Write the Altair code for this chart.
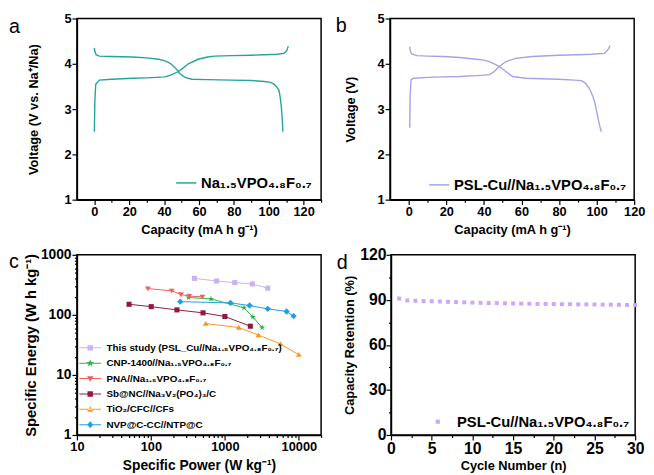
import altair as alt
import pandas as pd

FONT = "Liberation Sans"
NVPF = "Na₁.₅VPO₄.₈F₀.₇"
LAB_A = NVPF
LAB_B = "PSL-Cu//" + NVPF
LAB_D = "PSL-Cu//" + NVPF

# ---------------- panel a ----------------
a_ch_cap = [0, 0.3, 0.8, 2.8, 10, 21.7, 30, 40.6, 44.4, 48.2, 51, 53.9, 59.5, 65, 69, 78.4, 90, 97.4, 105, 108.7, 110.2, 111.2]
a_ch_v = [2.5, 3.2, 3.55, 3.64, 3.66, 3.68, 3.69, 3.71, 3.76, 3.83, 3.91, 4.0, 4.1, 4.15, 4.17, 4.18, 4.19, 4.2, 4.21, 4.23, 4.28, 4.39]
a_dis_cap = [0, 0.3, 1, 2.8, 10, 21.7, 30, 36.9, 40, 42.5, 44.5, 46.3, 48, 49.1, 52, 55.8, 65, 78.4, 90, 97.4, 101, 103, 104.8, 105.9, 106.6, 107.2, 107.7, 108.1]
a_dis_v = [4.35, 4.27, 4.2, 4.17, 4.16, 4.15, 4.13, 4.1, 4.07, 4.03, 3.98, 3.91, 3.84, 3.78, 3.7, 3.66, 3.65, 3.64, 3.63, 3.61, 3.59, 3.55, 3.48, 3.41, 3.25, 3.05, 2.8, 2.5]

# ---------------- panel b ----------------
b_ch_cap = [0.5, 0.7, 1.2, 2.6, 10, 18.4, 27, 35.9, 40, 42.9, 45.5, 48.2, 51.7, 56.9, 65.7, 79.7, 90, 97.2, 104.2, 106, 107.2]
b_ch_v = [2.59, 3.3, 3.65, 3.68, 3.7, 3.71, 3.72, 3.74, 3.75, 3.76, 3.83, 3.94, 4.05, 4.12, 4.16, 4.19, 4.2, 4.21, 4.23, 4.31, 4.4]
b_dis_cap = [0.5, 0.7, 1.5, 4.4, 10, 18.4, 27, 35.9, 40, 42.9, 45.5, 48.2, 51.7, 55.2, 62.2, 79.7, 88, 91.9, 93.8, 95.4, 96.8, 98, 99, 99.8, 100.5, 101.5, 102.5]
b_dis_v = [4.38, 4.3, 4.22, 4.18, 4.17, 4.16, 4.14, 4.1, 4.08, 4.05, 4.0, 3.94, 3.83, 3.72, 3.68, 3.66, 3.64, 3.63, 3.58, 3.5, 3.4, 3.28, 3.15, 2.99, 2.85, 2.65, 2.5]

# ---------------- panel c ----------------
c_series = [
    "This study (PSL_Cu//" + NVPF + ")",
    "CNP-1400//" + NVPF,
    "PNA//" + NVPF,
    "Sb@NC//Na₃V₂(PO₄)₃/C",
    "TiO₂/CFC//CFs",
    "NVP@C-CC//NTP@C",
]
c_colors = ["#c8b4f2", "#2bb34c", "#f25e5e", "#8c1d40", "#f7961f", "#1f9fe3"]
c_power = [
    [388, 773, 1361, 2350, 3800],
    [323, 649, 1815, 2395, 3190],
    [91, 191, 255, 329, 497],
    [50.7, 101, 225, 507, 1000, 2210],
    [551, 1540, 2850, 5623, 10000],
    [250, 1190, 2160, 3800, 6840, 8490],
]
c_energy = [
    [405, 366, 344, 327, 278],
    [195, 184, 131, 92, 61.5],
    [274, 251, 219, 205, 200],
    [150, 137, 121, 108, 94, 64.7],
    [71.5, 61.5, 46, 32.8, 21.7],
    [166, 158, 143, 126, 114, 95.5],
]

# ---------------- panel d ----------------
d_cycle = list(range(1, 31))
d_ret = [90.9, 89.6, 89.4, 89.2, 89.1, 88.9, 88.7, 88.5, 88.4, 88.2,
         88.0, 87.9, 87.8, 87.7, 87.6, 87.5, 87.4, 87.3, 87.3, 87.2,
         87.1, 87.1, 87.0, 87.0, 86.9, 86.8, 86.8, 86.7, 86.6, 86.5]

W, H = 248, 184


def curves_df(c1, v1, c2, v2, lab):
    rows = []
    for i, (c, v) in enumerate(zip(c1, v1)):
        rows.append({"cap": c, "v": v, "curve": "charge", "i": i, "lab": lab})
    for i, (c, v) in enumerate(zip(c2, v2)):
        rows.append({"cap": c, "v": v, "curve": "discharge", "i": i, "lab": lab})
    return pd.DataFrame(rows)


def axis(values, major, title, lsize, tsize, tpad, lpad=1, fmt="d"):
    return alt.Axis(
        values=values,
        format=fmt,
        labelExpr="(" + major + ") ? datum.label : ''",
        tickSize={"condition": {"test": major, "value": 5}, "value": 2.5},
        title=title,
        labelFontSize=lsize,
        titleFontSize=tsize,
        titlePadding=tpad,
        labelPadding=lpad,
        labelFlush=False,
        labelOverlap=False,
        grid=False,
    )


def letter(t, dx, dy):
    return alt.Chart(pd.DataFrame({"t": [t]})).mark_text(
        align="left", baseline="alphabetic", fontSize=20, font=FONT, color="black"
    ).encode(text="t:N", x=alt.value(dx), y=alt.value(dy))


def line_legend(offset):
    return alt.Legend(title=None, orient="bottom-right", offset=offset, padding=0,
                      symbolType="stroke", symbolSize=420, symbolStrokeWidth=1.5,
                      labelFont=FONT, labelFontSize=15, labelFontWeight="bold",
                      labelLimit=400, labelOffset=4)


xa_vals = list(range(0, 131, 10))
y_v_vals = [1 + 0.5 * k for k in range(9)]

da = curves_df(a_ch_cap, a_ch_v, a_dis_cap, a_dis_v, LAB_A)
pa_line = alt.Chart(da).mark_line(strokeWidth=1.4).encode(
    x=alt.X("cap:Q", scale=alt.Scale(domain=[-10, 130], nice=False),
            axis=axis(xa_vals, "datum.value % 20 === 0", "Capacity (mA h g⁻¹)", 13, 13, 5)),
    y=alt.Y("v:Q", scale=alt.Scale(domain=[1, 5], nice=False),
            axis=axis(y_v_vals, "datum.value % 1 === 0", "Voltage (V vs. Na⁺/Na)", 13, 13, 24)),
    color=alt.Color("lab:N", scale=alt.Scale(domain=[LAB_A], range=["#22a698"]), legend=line_legend(9)),
    detail="curve:N",
    order="i:Q",
)
panel_a = alt.layer(pa_line, letter("a", -69, 15)).properties(width=W, height=H)

xb_vals = list(range(0, 121, 10))
db = curves_df(b_ch_cap, b_ch_v, b_dis_cap, b_dis_v, LAB_B)
pb_line = alt.Chart(db).mark_line(strokeWidth=1.4).encode(
    x=alt.X("cap:Q", scale=alt.Scale(domain=[-10, 120], nice=False),
            axis=axis(xb_vals, "datum.value % 20 === 0", "Capacity (mA h g⁻¹)", 13, 13, 5)),
    y=alt.Y("v:Q", scale=alt.Scale(domain=[1, 5], nice=False),
            axis=axis(y_v_vals, "datum.value % 1 === 0", "Voltage (V)", 13, 13, 20)),
    color=alt.Color("lab:N", scale=alt.Scale(domain=[LAB_B], range=["#a3a3e8"]), legend=line_legend(7)),
    detail="curve:N",
    order="i:Q",
)
panel_b = alt.layer(pb_line, letter("b", -55, 14)).properties(width=W, height=H)

# ---- panel c ----
rows = []
for s, ps, es in zip(c_series, c_power, c_energy):
    for i, (p, e) in enumerate(zip(ps, es)):
        rows.append({"series": s, "p": p, "e": e, "i": i})
dc = pd.DataFrame(rows)


def path(pts, sx=1.0, ox=0.0):
    return "M" + "L".join(f"{x * sx + ox:.3f},{y * sx:.3f}" for x, y in pts) + "Z"


star_pts = [(0, -1), (0.235, -0.324), (0.951, -0.309), (0.380, 0.124), (0.588, 0.809),
            (0, 0.4), (-0.588, 0.809), (-0.380, 0.124), (-0.951, -0.309), (-0.235, -0.324)]
sq_pts = [(-1, -1), (1, -1), (1, 1), (-1, 1)]
tdn_pts = [(-1, -0.75), (1, -0.75), (0, 0.95)]
tup_pts = [(-1, 0.75), (1, 0.75), (0, -0.95)]
dia_pts = [(0, -1), (0.85, 0), (0, 1), (-0.85, 0)]

plot_shapes = [path(sq_pts, 0.8), path(star_pts), path(tdn_pts, 0.9), path(sq_pts, 0.8), path(tup_pts, 0.9), "diamond"]
bar = "M-2,-0.09H2V0.09H-2Z"
leg_shapes = [bar + path(sq_pts, 0.5), bar + path(star_pts, 0.75), bar + path(tdn_pts, 0.6),
              bar + path(sq_pts, 0.5), bar + path(tup_pts, 0.6), bar + path(dia_pts, 0.65)]

xc_vals = [m * 10 ** k for k in range(1, 4) for m in range(1, 10)] + [10000, 20000]
yc_vals = [m * 10 ** k for k in range(0, 3) for m in range(1, 10)] + [1000]
cx = alt.X("p:Q", scale=alt.Scale(type="log", domain=[10, 20000], nice=False),
           axis=axis(xc_vals, "indexof([10,100,1000,10000], datum.value) >= 0", "Specific Power (W kg⁻¹)", 13, 14, 5))
cy = alt.Y("e:Q", scale=alt.Scale(type="log", domain=[1, 1000], nice=False),
           axis=axis(yc_vals, "indexof([1,10,100,1000], datum.value) >= 0", "Specific Energy (W h kg⁻¹)", 14, 15, 2))
ccol = alt.Scale(domain=c_series, range=c_colors)

pc_line = alt.Chart(dc).mark_line(strokeWidth=1).encode(
    x=cx, y=cy, color=alt.Color("series:N", scale=ccol, legend=None), order="i:Q")
pc_pts = alt.Chart(dc).mark_point(filled=True, opacity=1, size=42, strokeWidth=0).encode(
    x=cx, y=cy, color=alt.Color("series:N", scale=ccol, legend=None),
    shape=alt.Shape("series:N", scale=alt.Scale(domain=c_series, range=plot_shapes), legend=None))
c_leg = alt.Legend(title=None, orient="none", legendX=8, legendY=89, padding=0,
                   symbolSize=121, symbolStrokeWidth=0, symbolOpacity=1,
                   labelFont=FONT, labelFontSize=10, labelFontWeight="bold", labelLimit=400,
                   labelOffset=11, rowPadding=4.6)
pc_leg = alt.Chart(dc).transform_filter("false").mark_point(filled=True, opacity=1).encode(
    x=cx, y=cy,
    color=alt.Color("series:N", scale=ccol, legend=c_leg),
    shape=alt.Shape("series:N", scale=alt.Scale(domain=c_series, range=leg_shapes), legend=c_leg))
panel_c = alt.layer(pc_line, pc_pts, pc_leg, letter("c", -69, 13)).resolve_scale(
    color="independent", shape="independent").properties(width=W, height=183)

# ---- panel d ----
dd = pd.DataFrame({"n": d_cycle, "r": d_ret, "lab": LAB_D})
xd_vals = [2.5 * k for k in range(13)]
yd_vals = [15 * k for k in range(9)]
pd_pts = alt.Chart(dd).mark_square(size=16, opacity=1).encode(
    x=alt.X("n:Q", scale=alt.Scale(domain=[0, 30], nice=False),
            axis=axis(xd_vals, "datum.value % 5 === 0", "Cycle Number (n)", 16, 13, 3)),
    y=alt.Y("r:Q", scale=alt.Scale(domain=[0, 120], nice=False),
            axis=axis(yd_vals, "datum.value % 30 === 0", "Capacity Retention (%)", 16, 13, 3, lpad=0)),
    color=alt.Color("lab:N", scale=alt.Scale(domain=[LAB_D], range=["#c9a8f5"]),
                    legend=alt.Legend(title=None, orient="bottom-right", offset=5, padding=0,
                                      symbolType="square", symbolSize=18, symbolOpacity=1,
                                      labelFont=FONT, labelFontSize=15, labelFontWeight="bold",
                                      labelLimit=400, labelOffset=12)),
)
panel_d = alt.layer(pd_pts, letter("d", -55, 14)).properties(width=W, height=183)

top = alt.hconcat(panel_a, panel_b, spacing=12).resolve_scale(color="independent", shape="independent")
bottom = alt.hconcat(panel_c, panel_d, spacing=13).resolve_scale(color="independent", shape="independent")

chart = alt.vconcat(top, bottom, spacing=9).resolve_scale(
    color="independent", shape="independent"
).properties(
    padding={"left": 0, "top": 0, "right": 0, "bottom": 0}
).configure_view(
    stroke="black", strokeWidth=1.5
).configure_axis(
    labelFont=FONT, labelFontWeight="bold", labelColor="black",
    titleFont=FONT, titleFontWeight="bold", titleColor="black",
    domainColor="black", domainWidth=1.5, tickColor="black", tickWidth=1.2,
).configure_legend(
    labelColor="black"
)

chart.save("out.html", embed_options={"renderer": "svg", "actions": False})
